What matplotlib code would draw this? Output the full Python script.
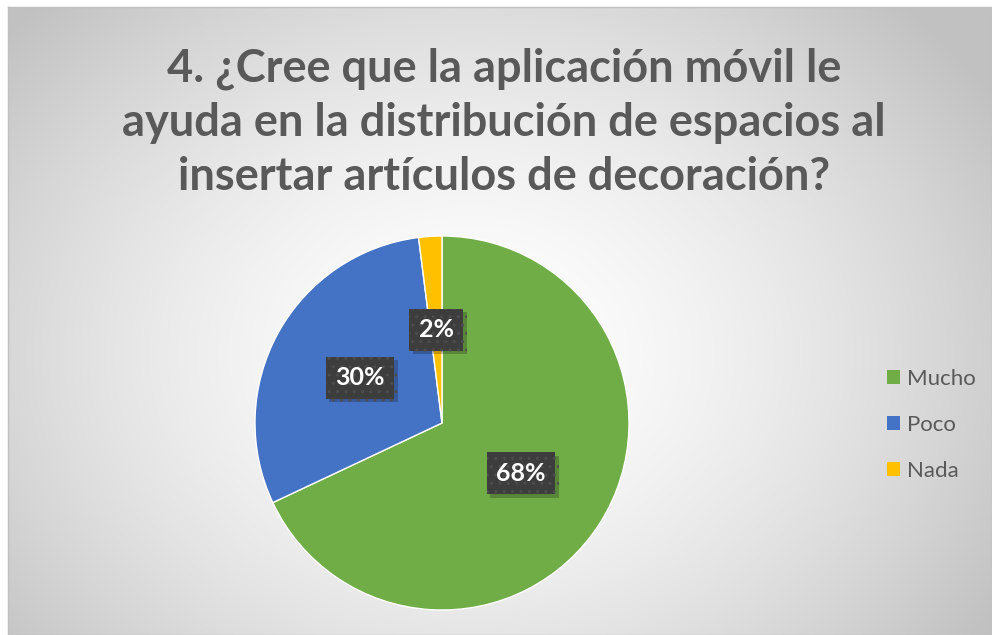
import numpy as np
import matplotlib
matplotlib.use("Agg")
import matplotlib.pyplot as plt
import matplotlib.patheffects as pe

labels = ["Mucho", "Poco", "Nada"]
values = [68, 30, 2]
colors = ["#70AD47", "#4472C4", "#FFC000"]
title = "4. ¿Cree que la aplicación móvil le\nayuda en la distribución de espacios al\ninsertar artículos de decoración?"

W, H = 992, 635
fig = plt.figure(figsize=(W / 100, H / 100), dpi=100)
fig.patch.set_facecolor("white")

# background with radial gradient
bx0, by0 = 8, 7
bg = fig.add_axes([bx0 / W, 0, 1 - bx0 / W, 1 - by0 / H])
ny, nx = 300, 460
yy, xx = np.mgrid[0:ny, 0:nx]
cx, cy = nx * 0.47, ny * 0.55
r = np.sqrt(((xx - cx) / (nx * 0.62)) ** 2 + ((yy - cy) / (ny * 0.78)) ** 2)
r = np.clip(r, 0, 1)
val = 1.0 - 0.24 * r ** 1.6
img = np.dstack([val, val, val])
bg.imshow(img, aspect="auto", extent=[0, 1, 0, 1], origin="upper", interpolation="bilinear")
bg.set_xticks([]); bg.set_yticks([])
for s in bg.spines.values():
    s.set_color("#c0c0c0")
    s.set_linewidth(1)

# title
fig.text(504 / W, 1 - 123 / H, title, ha="center", va="center",
         fontsize=32.5, fontweight="bold", color="#595959", family="Lato",
         linespacing=1.36)

# pie
pcx, pcy, pr = 442, 423, 187
ax = fig.add_axes([(pcx - pr) / W, (H - pcy - pr) / H, 2 * pr / W, 2 * pr / H])
wedges, texts, autotexts = ax.pie(
    values, colors=colors, startangle=90, counterclock=False,
    autopct=lambda p: f"{p:.0f}%", pctdistance=0.5, radius=1,
    wedgeprops=dict(edgecolor="white", linewidth=1),
    textprops=dict(color="white", fontsize=18, fontweight="bold", family="Lato"))
ax.set_xlim(-1, 1); ax.set_ylim(-1, 1)
ax.set_aspect("auto")
for t in autotexts:
    t.set_bbox(dict(boxstyle="square,pad=0.38", facecolor="#3d3d3d",
                    edgecolor="#4d4d4d", linewidth=0, hatch=".."))
    t.get_bbox_patch().set_path_effects([pe.SimplePatchShadow(offset=(2.5, -2.5), alpha=0.25), pe.Normal()])
    t.set_zorder(5)

# legend
leg = fig.legend(wedges, labels, loc="center left",
                 bbox_to_anchor=(867 / W, 1 - 425 / H), frameon=False,
                 handlelength=0.6, handleheight=0.6, handletextpad=0.3,
                 labelspacing=1.16, prop=dict(family="Lato", size=16))
for t in leg.get_texts():
    t.set_color("#595959")
for h in leg.legend_handles:
    h.set_edgecolor("none")

fig.savefig("out.png", dpi=100)
